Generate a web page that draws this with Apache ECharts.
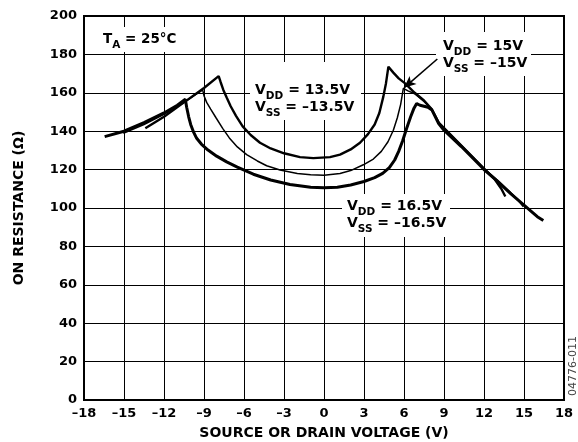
<!DOCTYPE html>
<html><head><meta charset="utf-8">
<script src="https://cdn.jsdelivr.net/npm/echarts@6/dist/echarts.min.js"></script>
<style>html,body{margin:0;padding:0;background:#fff}#c{width:578px;height:442px}</style>
</head><body><div id="c"></div>
<script>
// ---- data (source/drain voltage V, on resistance ohm) ----
const curve135 = [[-13.4,141.5],[-12,147.5],[-10.5,155],[-9,162.5],[-7.9,168.7],[-7.75,165.5],[-7.55,161.5],[-7.3,157.5],[-7,153],[-6.6,148],[-6.1,142.5],[-5.5,138],[-4.8,134],[-4,131],[-3,128.5],[-1.8,126.5],[-0.8,126],[0.45,126.5],[1.2,127.8],[2,130.5],[2.7,134],[3.3,138.5],[3.8,143.5],[4.15,149.5],[4.45,158],[4.65,165],[4.83,173.6],[5.2,170.5],[5.6,167.5],[6.08,164.9],[6.8,160],[7.5,156],[8.07,151.5],[8.6,144.5],[10.3,132.5],[12,120.5],[12.8,115],[13.3,110],[13.6,106]];
const curve150 = [[-15.05,138.9],[-13.5,143.5],[-12,148.8],[-10.5,155],[-9.1,161.5],[-9.0,158.5],[-8.8,155],[-8.5,151.5],[-8.1,147],[-7.6,141.5],[-7.1,136.5],[-6.5,131.8],[-5.8,127.8],[-5,124.5],[-4.3,122],[-3.3,119.8],[-2,118],[-1,117.3],[0,117.1],[1.2,118],[2,119.5],[2.95,122.5],[3.7,125.5],[4.3,129.5],[4.8,134.5],[5.2,140.5],[5.5,147],[5.75,154],[5.95,162.3],[6.3,161],[6.8,159.5],[7.5,155.5],[8.07,151.5],[8.6,144.5],[10.3,132.5],[12,120.5],[13,114.5],[14,108],[14.5,104.5],[14.95,100.7]];
const curve165 = [[-16.45,137.2],[-15,140],[-13.5,144.5],[-12,149.5],[-11,153.5],[-10.4,156.6],[-10.3,152.5],[-10.15,147.5],[-10,143.5],[-9.8,139.8],[-9.55,136.3],[-9.2,133.3],[-8.7,130.2],[-8.05,127],[-7.3,124],[-6.5,121.3],[-5.3,117.6],[-4,114.6],[-2.55,112.2],[-1,110.8],[0,110.5],[1,110.8],[2,112],[3,113.8],[3.8,115.8],[4.4,118],[4.9,121],[5.3,125],[5.6,129.5],[5.9,135],[6.2,141.5],[6.5,147.5],[6.75,152],[6.95,154.4],[7.2,153.5],[7.8,152.5],[8.1,151],[8.6,144],[9,140.5],[10.3,132],[11.8,121.5],[12,120],[13,114],[14,107.5],[15,101.5],[16,95.5],[16.45,93.5]];
const arrowFrom = [8.5, 177.6];
const arrowTo = [6.0, 162.6];
const xName = 'SOURCE OR DRAIN VOLTAGE (V)';
const yName = 'ON RESISTANCE (Ω)';
const labTA = [['T',0],['A',1],[' = 25°C',0]];
const lab150 = [[['V',0],['DD',1],[' = 15V',0]],[['V',0],['SS',1],[' = –15V',0]]];
const lab135 = [[['V',0],['DD',1],[' = 13.5V',0]],[['V',0],['SS',1],[' = –13.5V',0]]];
const lab165 = [[['V',0],['DD',1],[' = 16.5V',0]],[['V',0],['SS',1],[' = –16.5V',0]]];
const figId = '04776-011';

const FONT = '"DejaVu Sans"';
const ctx = document.createElement('canvas').getContext('2d');
function tw(t, size){ ctx.font = 'bold ' + size + 'px ' + FONT; return ctx.measureText(t).width; }
function pieces(x, baseline, parts, MAIN, SUB){
  MAIN = MAIN || 14; SUB = SUB || 10.5;
  const out = []; let cx = x;
  parts.forEach(([t, sub]) => {
    const s = sub ? SUB : MAIN;
    const b = sub ? baseline + 4.5 : baseline;
    out.push({type:'text', z:10, x: cx, y: b - 0.35*s,
      style:{text:t, font:'bold '+s+'px '+FONT, fill:'#000', align:'left', verticalAlign:'middle'}});
    cx += tw(t, s);
  });
  return out;
}
function box(x,y,w,h){ return {type:'rect', z:1, shape:{x,y,width:w,height:h}, style:{fill:'#fff'}}; }

const graphic = [
  box(98,27,82,25), box(436,32,95,44), box(250,62,111,58), box(342,194,108,43),
  ...pieces(103,44.5,labTA,13.5,10.5),
  ...pieces(443,51,lab150[0]), ...pieces(443,68,lab150[1]),
  ...pieces(255,95,lab135[0]), ...pieces(255,112.5,lab135[1]),
  ...pieces(347,211,lab165[0]), ...pieces(347,228.5,lab165[1]),
  {type:'text', z:10, x:324, y:433, style:{text:xName, font:'bold 14px '+FONT, fill:'#000', align:'center', verticalAlign:'middle'}},
  {type:'text', z:10, x:19, y:208, rotation:Math.PI/2, style:{text:yName, font:'bold 14px '+FONT, fill:'#000', align:'center', verticalAlign:'middle'}},
  {type:'text', z:10, x:573, y:366, rotation:Math.PI/2, style:{text:figId, font:'11px '+FONT, fill:'#444', align:'center', verticalAlign:'middle'}}
];

const fmt = v => String(v).replace('-', '–');
const chart = echarts.init(document.getElementById('c'), null, {renderer:'canvas'});
chart.setOption({
  animation:false,
  backgroundColor:'#fff',
  grid:{left:84, right:14, top:16, bottom:42, show:true, borderColor:'#000', borderWidth:2, z:3},
  xAxis:{type:'value', min:-18, max:18, interval:3,
    axisLine:{show:false}, axisTick:{show:false},
    splitLine:{show:true, lineStyle:{color:'#000', width:1}},
    axisLabel:{formatter:fmt, color:'#000', fontFamily:FONT, fontWeight:'bold', fontSize:13, margin:7}},
  yAxis:{type:'value', min:0, max:200, interval:20,
    axisLine:{show:false}, axisTick:{show:false},
    splitLine:{show:true, lineStyle:{color:'#000', width:1}},
    axisLabel:{color:'#000', fontFamily:FONT, fontWeight:'bold', fontSize:13, margin:7}},
  graphic: graphic,
  series:[
    {type:'line', name:'13.5V', data:curve135, showSymbol:false, z:5, lineStyle:{color:'#000', width:2.4}},
    {type:'line', name:'15V', data:curve150, showSymbol:false, z:5, lineStyle:{color:'#000', width:1.5},
      markLine:{silent:true, symbol:['none','arrow'], symbolSize:[8,12], label:{show:false},
        lineStyle:{color:'#000', width:1.6, type:'solid'},
        data:[[{coord:arrowFrom},{coord:arrowTo}]]}},
    {type:'line', name:'16.5V', data:curve165, showSymbol:false, z:5, lineStyle:{color:'#000', width:3}}
  ]
});
</script></body></html>
